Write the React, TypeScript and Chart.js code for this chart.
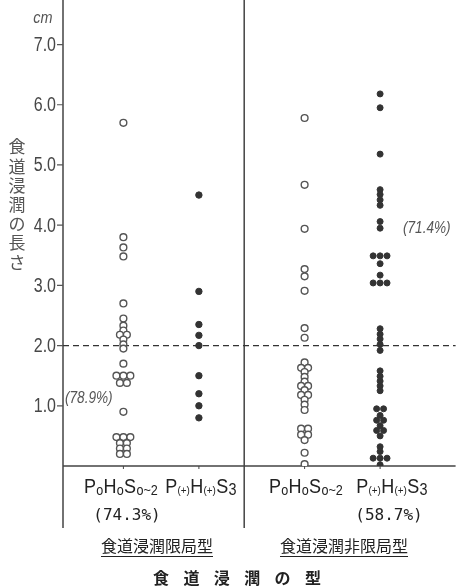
import React, { useEffect, useRef } from "react";
import { Chart, registerables } from "chart.js";

Chart.register(...registerables);

// ---------- data ----------
const yTicks = [1, 2, 3, 4, 5, 6, 7];
const yTickLabels = ["1.0", "2.0", "3.0", "4.0", "5.0", "6.0", "7.0"];
const yUnit = "cm";
const yTitle = "食道浸潤の長さ";
const threshold = 2.0;

// column 1: 食道浸潤限局型, PoHoSo~2 (open circles)
const localizedNeg = [
  5.7, 3.8, 3.63, 3.48, 2.7, 2.45, 2.33, 2.25, 2.18, 2.18, 2.1, 2.02, 1.95, 1.7,
  1.5, 1.5, 1.5, 1.38, 1.38, 0.9, 0.48, 0.48, 0.48, 0.38, 0.38, 0.29, 0.29, 0.2, 0.2,
];
// column 2: 食道浸潤限局型, P(+)H(+)S3 (filled)
const localizedPos = [4.5, 2.9, 2.35, 2.17, 2.0, 1.5, 1.2, 1.0, 0.8];
// column 3: 食道浸潤非限局型, PoHoSo~2 (open)
const diffuseNeg = [
  5.78, 4.67, 3.94, 3.27, 3.15, 2.91, 2.29, 2.13, 1.72, 1.63, 1.63, 1.56, 1.48, 1.4,
  1.33, 1.33, 1.26, 1.18, 1.18, 1.1, 1.02, 0.93, 0.62, 0.62, 0.52, 0.52, 0.43, 0.22, 0.03,
];
// column 4: 食道浸潤非限局型, P(+)H(+)S3 (filled)
const diffusePos = [
  6.18, 5.95, 5.18, 4.59, 4.51, 4.42, 4.33, 4.06, 3.95, 3.49, 3.49, 3.49, 3.36, 3.17,
  3.04, 3.04, 3.04, 2.28, 2.19, 2.11, 2.02, 1.92, 1.58, 1.49, 1.41, 1.33, 1.25, 0.95,
  0.95, 0.84, 0.76, 0.76, 0.67, 0.59, 0.59, 0.5, 0.32, 0.24, 0.13, 0.13, 0.13, 0.02,
];

// category labels as [text, style] (0 = main, 1 = subscript, 2 = larger subscript, 3 = tiny)
const catNeg: [string, number][] = [["P", 0], ["o", 1], ["H", 0], ["o", 1], ["S", 0], ["o~2", 1]];
const catPos: [string, number][] = [["P", 0], ["(+)", 3], ["H", 0], ["(+)", 3], ["S", 0], ["3", 2]];
const groupLabels = ["食道浸潤限局型", "食道浸潤非限局型"];
const groupPercents = ["(74.3%)", "(58.7%)"];
const innerPercents = ["(78.9%)", "(71.4%)"];
const mainTitle = "食道浸潤の型";

// ---------- layout ----------
const W = 461;
const H = 588;
const colX = [0.8, 1.8, 3.2, 4.2];
const dividerX = 2.4;
const dx = 0.092;

const SANS = '"Liberation Sans", Arimo, sans-serif';
const CJK = '"Noto Sans CJK JP", sans-serif';
const MONO = '"DejaVu Sans Mono", "Liberation Mono", monospace';

function spread(values: number[], cx: number) {
  const counts = new Map<number, number>();
  values.forEach((v) => counts.set(v, (counts.get(v) || 0) + 1));
  const seen = new Map<number, number>();
  return values.map((v) => {
    const n = counts.get(v) || 1;
    const i = seen.get(v) || 0;
    seen.set(v, i + 1);
    return { x: cx + (i - (n - 1) / 2) * dx, y: v };
  });
}

function fillCond(ctx: CanvasRenderingContext2D, text: string, x: number, y: number, sx: number, align: "left" | "right" | "center") {
  const w = ctx.measureText(text).width * sx;
  let left = x;
  if (align === "right") left = x - w;
  else if (align === "center") left = x - w / 2;
  ctx.save();
  ctx.textAlign = "left";
  ctx.translate(left, y);
  ctx.scale(sx, 1);
  ctx.fillText(text, 0, 0);
  ctx.restore();
}

function drawRich(ctx: CanvasRenderingContext2D, segs: [string, number][], cx: number, base: number) {
  const sx = 0.9;
  const fontFor = (s: number) =>
    s === 1 ? `14px ${SANS}` : s === 2 ? `16px ${SANS}` : s === 3 ? `11px ${SANS}` : `20px ${SANS}`;
  const dyFor = (s: number) => (s === 1 ? 2 : s === 2 ? 2 : s === 3 ? 1 : 0);
  let total = 0;
  const widths = segs.map(([t, s]) => {
    ctx.font = fontFor(s);
    const w = ctx.measureText(t).width * sx + 0.3;
    total += w;
    return w;
  });
  let x = cx - total / 2;
  segs.forEach(([t, s], i) => {
    ctx.font = fontFor(s);
    fillCond(ctx, t, x, base + dyFor(s), sx, "left");
    x += widths[i];
  });
}

const overlay = {
  id: "overlay",
  beforeDatasetsDraw(chart: any) {
    const { ctx, chartArea, scales } = chart;
    const xs = scales.x;
    const ys = scales.y;
    ctx.save();
    ctx.strokeStyle = "#444";
    ctx.lineWidth = 1.5;
    ctx.beginPath();
    ctx.moveTo(chartArea.left, 0);
    ctx.lineTo(chartArea.left, 528);
    const dxp = xs.getPixelForValue(dividerX);
    ctx.moveTo(dxp, 0);
    ctx.lineTo(dxp, 528);
    const y0 = ys.getPixelForValue(0);
    ctx.moveTo(chartArea.left, y0);
    ctx.lineTo(chartArea.right, y0);
    ctx.stroke();
    ctx.lineWidth = 1;
    ctx.beginPath();
    colX.forEach((c) => {
      const px = xs.getPixelForValue(c);
      ctx.moveTo(px, y0);
      ctx.lineTo(px, y0 + 3);
    });
    ctx.stroke();
    // y tick marks and labels
    ctx.lineWidth = 1.2;
    ctx.strokeStyle = "#555";
    ctx.beginPath();
    ctx.fillStyle = "#474747";
    ctx.font = `20px ${SANS}`;
    ctx.textBaseline = "middle";
    yTicks.forEach((v, i) => {
      const py = ys.getPixelForValue(v);
      ctx.moveTo(chartArea.left - 6, py);
      ctx.lineTo(chartArea.left, py);
      fillCond(ctx, yTickLabels[i], chartArea.left - 7, py + 1, 0.8, "right");
    });
    ctx.stroke();
    // threshold dashed
    const yt = ys.getPixelForValue(threshold);
    ctx.setLineDash([6, 4]);
    ctx.lineWidth = 1.2;
    ctx.strokeStyle = "#333";
    ctx.beginPath();
    ctx.moveTo(chartArea.left, yt);
    ctx.lineTo(chartArea.right, yt);
    ctx.stroke();
    ctx.restore();
  },
  afterDraw(chart: any) {
    const { ctx } = chart;
    ctx.save();
    ctx.fillStyle = "#555";
    ctx.textBaseline = "middle";
    ctx.font = `italic 17px ${SANS}`;
    fillCond(ctx, yUnit, 43, 18, 0.85, "center");
    ctx.textAlign = "center";
    ctx.font = `17px ${CJK}`;
    Array.from(yTitle).forEach((ch, i) => ctx.fillText(ch, 17, 147 + i * 19.2));
    // inner percents
    ctx.font = `italic 17px ${SANS}`;
    ctx.fillStyle = "#555";
    fillCond(ctx, innerPercents[0], 65, 398, 0.8, "left");
    fillCond(ctx, innerPercents[1], 403, 228, 0.8, "left");
    // category labels
    ctx.fillStyle = "#222";
    ctx.textBaseline = "alphabetic";
    const cats = [catNeg, catPos, catNeg, catPos];
    const catCenters = [121, 201, 306, 392];
    cats.forEach((c, i) => drawRich(ctx, c, catCenters[i], 493));
    // group percents
    ctx.textAlign = "center";
    ctx.textBaseline = "middle";
    ctx.font = `16px ${MONO}`;
    ctx.fillStyle = "#222";
    ctx.fillText(groupPercents[0], 127, 516);
    ctx.fillText(groupPercents[1], 389, 516);
    // group labels with underline
    ctx.font = `16px ${CJK}`;
    const gCenters = [157, 344];
    groupLabels.forEach((g, i) => {
      ctx.fillText(g, gCenters[i], 546);
      const w = ctx.measureText(g).width;
      ctx.beginPath();
      ctx.strokeStyle = "#222";
      ctx.lineWidth = 1.2;
      ctx.moveTo(gCenters[i] - w / 2, 556.5);
      ctx.lineTo(gCenters[i] + w / 2, 556.5);
      ctx.stroke();
    });
    ctx.font = `bold 16px ${CJK}`;
    Array.from(mainTitle).forEach((ch, i) => ctx.fillText(ch, 161 + i * 30.4, 578));
    ctx.restore();
  },
};

export default function App() {
  const ref = useRef<HTMLCanvasElement>(null);
  useEffect(() => {
    if (!ref.current) return;
    const open = {
      backgroundColor: "#ffffff",
      borderColor: "#555",
      borderWidth: 1.4,
      pointRadius: 3.4,
      pointStyle: "circle",
    };
    const filled = {
      backgroundColor: "#333",
      borderColor: "#333",
      borderWidth: 1,
      pointRadius: 3.2,
      pointStyle: "circle",
    };
    const chart = new Chart(ref.current, {
      type: "scatter",
      data: {
        datasets: [
          { label: "限局型 PoHoSo~2", data: spread(localizedNeg, colX[0]), ...open },
          { label: "限局型 P(+)H(+)S3", data: spread(localizedPos, colX[1]), ...filled },
          { label: "非限局型 PoHoSo~2", data: spread(diffuseNeg, colX[2]), ...open },
          { label: "非限局型 P(+)H(+)S3", data: spread(diffusePos, colX[3]), ...filled, pointRadius: 3 },
        ] as any,
      },
      options: {
        responsive: false,
        animation: false,
        layout: { padding: { left: 63, top: 0, right: 3, bottom: 122 } },
        plugins: { legend: { display: false }, tooltip: { enabled: false } },
        scales: {
          x: { type: "linear", min: 0, max: 5.2, display: false },
          y: { type: "linear", min: 0, max: 7.65, display: false },
        },
      } as any,
      plugins: [overlay],
    });
    return () => chart.destroy();
  }, []);
  return (
    <div style={{ position: "fixed", left: 0, top: 0, width: W, height: H, background: "#fff" }}>
      <canvas ref={ref} width={W} height={H} style={{ width: W, height: H, display: "block" }} />
    </div>
  );
}
